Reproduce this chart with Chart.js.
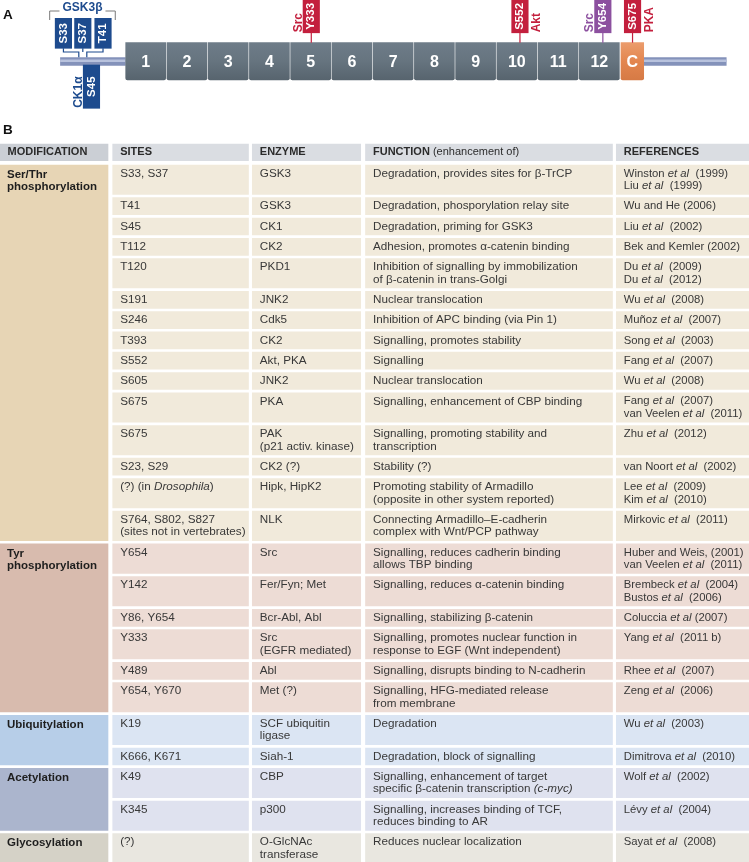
<!DOCTYPE html>
<html>
<head>
<meta charset="utf-8">
<script src="https://cdn.jsdelivr.net/npm/chart.js@4.4.1/dist/chart.umd.min.js"></script>
<style>
  html, body { margin: 0; padding: 0; background: #fff; }
  #wrap { position: relative; width: 749px; height: 862px; overflow: hidden; }
  #domainChart { position: absolute; left: 0; top: 0; }
  #tableChart { position: absolute; left: 0; top: 118px; }
</style>
</head>
<body>
<div id="wrap">
  <canvas id="domainChart" width="749" height="118"></canvas>
  <canvas id="tableChart" width="749" height="744"></canvas>
</div>
<script>
// ---------- panel A: beta-catenin domains ----------
const domainLabels = ['1', '2', '3', '4', '5', '6', '7', '8', '9', '10', '11', '12', 'C'];
const siteNames = ['S33', 'S37', 'T41', 'S45', 'Y333', 'S552', 'Y654', 'S675'];
const siteSlots = [-1.51, -1.04, -0.55, -0.83, 4.5, 9.56, 11.57, 12.29];
const siteKinases = ['GSK3β', 'GSK3β', 'GSK3β', 'CK1α', 'Src', 'Akt', 'Src', 'PKA'];
const tailSlots = [[-1.59, 0], [12.56, 14.57]];

// ---------- panel B: table ----------
const headerLabels = ['MODIFICATION', 'SITES', 'ENZYME', 'FUNCTION', 'REFERENCES'];
const headerNotes = ['', '', '', ' (enhancement of)', ''];
const groups = ['Ser/Thr\nphosphorylation', 'Tyr\nphosphorylation', 'Ubiquitylation', 'Acetylation', 'Glycosylation'];
const groupRowCounts = [15, 6, 2, 2, 1];
const sites = [
  'S33, S37', 'T41', 'S45', 'T112', 'T120', 'S191', 'S246', 'T393', 'S552', 'S605', 'S675', 'S675',
  'S23, S29', '(?) (in *Drosophila*)', 'S764, S802, S827\n(sites not in vertebrates)',
  'Y654', 'Y142', 'Y86, Y654', 'Y333', 'Y489', 'Y654, Y670',
  'K19', 'K666, K671',
  'K49', 'K345',
  '(?)'
];
const enzymes = [
  'GSK3', 'GSK3', 'CK1', 'CK2', 'PKD1', 'JNK2', 'Cdk5', 'CK2', 'Akt, PKA', 'JNK2', 'PKA', 'PAK\n(p21 activ. kinase)',
  'CK2 (?)', 'Hipk, HipK2', 'NLK',
  'Src', 'Fer/Fyn; Met', 'Bcr-Abl, Abl', 'Src\n(EGFR mediated)', 'Abl', 'Met (?)',
  'SCF ubiquitin\nligase', 'Siah-1',
  'CBP', 'p300',
  'O-GlcNAc\ntransferase'
];
const functions = [
  'Degradation, provides sites for β-TrCP',
  'Degradation, phosporylation relay site',
  'Degradation, priming for GSK3',
  'Adhesion, promotes α-catenin binding',
  'Inhibition of signalling by immobilization\nof β-catenin in trans-Golgi',
  'Nuclear translocation',
  'Inhibition of APC binding (via Pin 1)',
  'Signalling, promotes stability',
  'Signalling',
  'Nuclear translocation',
  'Signalling, enhancement of CBP binding',
  'Signalling, promoting stability and\ntranscription',
  'Stability (?)',
  'Promoting stability of Armadillo\n(opposite in other system reported)',
  'Connecting Armadillo–E-cadherin\ncomplex with Wnt/PCP pathway',
  'Signalling, reduces cadherin binding\nallows TBP binding',
  'Signalling, reduces α-catenin binding',
  'Signalling, stabilizing β-catenin',
  'Signalling, promotes nuclear function in\nresponse to EGF (Wnt independent)',
  'Signalling, disrupts binding to N-cadherin',
  'Signalling, HFG-mediated release\nfrom membrane',
  'Degradation',
  'Degradation, block of signalling',
  'Signalling, enhancement of target\nspecific β-catenin transcription *(c-myc)*',
  'Signalling, increases binding of TCF,\nreduces binding to AR',
  'Reduces nuclear localization'
];
const references = [
  'Winston *et al*  (1999)\nLiu *et al*  (1999)',
  'Wu and He (2006)',
  'Liu *et al*  (2002)',
  'Bek and Kemler (2002)',
  'Du *et al*  (2009)\nDu *et al*  (2012)',
  'Wu *et al*  (2008)',
  'Muñoz *et al*  (2007)',
  'Song *et al*  (2003)',
  'Fang *et al*  (2007)',
  'Wu *et al*  (2008)',
  'Fang *et al*  (2007)\nvan Veelen *et al*  (2011)',
  'Zhu *et al*  (2012)',
  'van Noort *et al*  (2002)',
  'Lee *et al*  (2009)\nKim *et al*  (2010)',
  'Mirkovic *et al*  (2011)',
  'Huber and Weis, (2001)\nvan Veelen *et al*  (2011)',
  'Brembeck *et al*  (2004)\nBustos *et al*  (2006)',
  'Coluccia *et al* (2007)',
  'Yang *et al*  (2011 b)',
  'Rhee *et al*  (2007)',
  'Zeng *et al*  (2006)',
  'Wu *et al*  (2003)',
  'Dimitrova *et al*  (2010)',
  'Wolf *et al*  (2002)',
  'Lévy *et al*  (2004)',
  'Sayat *et al*  (2008)'
];

// ---------- styles / layout ----------
const FONT = '"Liberation Sans", Arial, sans-serif';
Chart.defaults.font.family = FONT;

const groupLabelColors = ['#e7d5b5', '#d8bbae', '#b7cee8', '#abb5cd', '#d5d2c7'];
const groupRowColors = ['#f1eadb', '#eddcd5', '#dbe5f3', '#dfe2ef', '#e9e7e0'];
const kinaseColors = { 'GSK3β': '#1d4b8e', 'CK1α': '#1d4b8e', 'Akt': '#c31f3d', 'PKA': '#c31f3d' };
const siteColors = { S33: '#1d4b8e', S37: '#1d4b8e', T41: '#1d4b8e', S45: '#1d4b8e', Y333: '#c31f3d', S552: '#c31f3d', Y654: '#8c509f', S675: '#c31f3d' };
const labelSide = { Y333: 'left', S552: 'right', Y654: 'left', S675: 'right', S45: 'left' };

const A_W = 749, A_H = 118;
const SLOT_PX = 41.24, SLOT0_PX = 125.7;
const BOX = [42.7, 80];
const ARM_W = 40, C_W = 22.7, SITE_W = 16.5;
const TAIL_Y = 61.5;

function siteRange(i) {
  if (siteKinases[i] === 'GSK3β') return [18.3, 48.3];
  if (siteKinases[i] === 'CK1α') return [65, 108.3];
  return [0, 32.8];
}

function vGrad(chart, y0, y1, stops) {
  const ys = chart.scales.y;
  const p0 = ys ? ys.getPixelForValue(y0) : NaN, p1 = ys ? ys.getPixelForValue(y1) : NaN;
  if (!isFinite(p0) || !isFinite(p1)) return stops[1];
  const g = chart.ctx.createLinearGradient(0, p0, 0, p1);
  stops.forEach((c, k) => g.addColorStop(k / (stops.length - 1), c));
  return g;
}

function rotText(ctx, txt, x, y, align) {
  ctx.save();
  ctx.translate(x, y);
  ctx.rotate(-Math.PI / 2);
  ctx.textAlign = align;
  ctx.fillText(txt, 0, 0);
  ctx.restore();
}

const domainMarks = {
  id: 'domainMarks',
  beforeDatasetsDraw(chart) {
    const {ctx} = chart;
    ctx.save();
    ctx.font = 'bold 13.5px ' + FONT;
    ctx.fillStyle = '#111';
    ctx.textBaseline = 'middle';
    ctx.fillText('A', 3, 15);
    ctx.restore();
  },
  afterDatasetsDraw(chart) {
    const {ctx, scales: {x, y}} = chart;
    ctx.save();
    // repeat numbers
    ctx.fillStyle = '#fff';
    ctx.font = 'bold 16px ' + FONT;
    ctx.textAlign = 'center';
    ctx.textBaseline = 'middle';
    const midY = y.getPixelForValue((BOX[0] + BOX[1]) / 2) + 1;
    [0, 1].forEach(d => chart.getDatasetMeta(d).data.forEach((el, k) => {
      ctx.fillText(domainLabels[d === 0 ? k : 12], el.x, midY);
    }));

    // site boxes: text, stems, kinase labels
    const els = chart.getDatasetMeta(4).data;
    const tailTop = y.getPixelForValue(TAIL_Y - 4.2);
    const tailBot = y.getPixelForValue(TAIL_Y + 4.2);
    const boxTop = y.getPixelForValue(BOX[0]);
    ctx.lineWidth = 1.2;
    els.forEach((el, i) => {
      const name = siteNames[i];
      const top = Math.min(el.y, el.base), bot = Math.max(el.y, el.base);
      ctx.strokeStyle = siteColors[name];
      ctx.beginPath();
      if (siteKinases[i] === 'GSK3β') {
        const mid = els[1].x;
        const jy = y.getPixelForValue(52);
        ctx.moveTo(el.x, bot); ctx.lineTo(el.x, jy);
        if (i === 0) { ctx.lineTo(mid - 4, jy); ctx.lineTo(mid - 4, tailTop); }
        if (i === 2) { ctx.lineTo(mid + 4, jy); ctx.lineTo(mid + 4, tailTop); }
      } else if (siteKinases[i] === 'CK1α') {
        ctx.moveTo(el.x, tailBot); ctx.lineTo(el.x, top);
      } else {
        ctx.moveTo(el.x, bot); ctx.lineTo(el.x, boxTop);
      }
      ctx.stroke();

      ctx.fillStyle = '#fff';
      ctx.font = 'bold 11.5px ' + FONT;
      ctx.textBaseline = 'middle';
      rotText(ctx, name, el.x, (top + bot) / 2, 'center');

      const side = labelSide[name];
      if (side) {
        const kin = siteKinases[i];
        ctx.fillStyle = kinaseColors[kin] || siteColors[name];
        ctx.font = 'bold 12px ' + FONT;
        ctx.textBaseline = 'alphabetic';
        const bx = side === 'left' ? el.x - SITE_W / 2 - 1.5 : el.x + SITE_W / 2 + 12;
        rotText(ctx, kin, bx, bot - 0.5, 'left');
      }
    });

    // GSK3beta bracket
    const l = els[0].x - SITE_W / 2 - 5.5, r = els[2].x + SITE_W / 2 + 4;
    const by = y.getPixelForValue(11), bt = y.getPixelForValue(20);
    ctx.font = 'bold 12px ' + FONT;
    ctx.textAlign = 'center';
    ctx.textBaseline = 'middle';
    ctx.fillStyle = kinaseColors['GSK3β'];
    const cx = (l + r) / 2;
    ctx.fillText('GSK3β', cx, y.getPixelForValue(7.5));
    const tw = ctx.measureText('GSK3β').width / 2 + 3;
    ctx.strokeStyle = '#7a7a7a';
    ctx.lineWidth = 1;
    ctx.beginPath();
    ctx.moveTo(l, bt); ctx.lineTo(l, by); ctx.lineTo(cx - tw, by);
    ctx.moveTo(cx + tw, by); ctx.lineTo(r, by); ctx.lineTo(r, bt);
    ctx.stroke();
    ctx.restore();
  }
};

const armGrad = c => vGrad(c.chart, BOX[0], BOX[1], ['#6e7c88', '#66747f', '#57646e']);
const cGrad = c => vGrad(c.chart, BOX[0], BOX[1], ['#eb9c6c', '#e3864f', '#d67a45']);

new Chart(document.getElementById('domainChart'), {
  type: 'bar',
  data: {
    datasets: [
      { data: domainLabels.slice(0, 12).map((l, i) => ({x: i + ARM_W / 2 / SLOT_PX, y: BOX})),
        backgroundColor: armGrad, barThickness: ARM_W, grouped: false, borderRadius: 2, order: 2 },
      { data: [{x: 12.01 + C_W / 2 / SLOT_PX, y: BOX}],
        backgroundColor: cGrad, barThickness: C_W, grouped: false, borderRadius: 2, order: 2 },
      ...tailSlots.map(s => ({ type: 'line', data: s.map(v => ({x: v, y: TAIL_Y})),
        borderColor: '#8492ba', borderWidth: 8.4, borderCapStyle: 'butt', pointRadius: 0, order: 3 })),
      { data: siteNames.map((n, i) => ({x: siteSlots[i], y: siteRange(i)})),
        backgroundColor: siteNames.map(n => siteColors[n]), barThickness: SITE_W, grouped: false, order: 1 },
      ...tailSlots.map(s => ({ type: 'line', data: s.map(v => ({x: v, y: TAIL_Y - 0.8})),
        borderColor: '#b8c2dd', borderWidth: 2.4, borderCapStyle: 'butt', pointRadius: 0, order: 2.5 }))
    ]
  },
  options: {
    responsive: false, animation: false, events: [],
    layout: { padding: 0 },
    plugins: { legend: { display: false }, tooltip: { enabled: false } },
    scales: {
      x: { type: 'linear', min: -SLOT0_PX / SLOT_PX, max: (A_W - SLOT0_PX) / SLOT_PX, display: false, offset: false },
      y: { type: 'linear', min: 0, max: A_H, reverse: true, display: false }
    }
  },
  plugins: [domainMarks]
});

// ---------- panel B ----------
const B_W = 749, B_H = 744;
const COL_L = [0, 112.7, 252.3, 365.5, 616.3];
const COL_R = [108, 248.5, 360.7, 612.5, 749];
const HEAD = [26, 42.7];
const FIRST_TOP = 47;
const ROW_BASE = 4.6, LINE_H = 12.4, GAP = 3.3, PAD = 7.5;
const CELL_SIZE = [11.7, 11.7, 11.7, 11.3];

const cols = [sites, enzymes, functions, references];
const rowLines = sites.map((s, i) => Math.max(...cols.map(c => c[i].split('\n').length)));
const rowSpans = [];
let yy = FIRST_TOP;
rowLines.forEach(n => { rowSpans.push([yy, yy + ROW_BASE + LINE_H * n]); yy += ROW_BASE + LINE_H * n + GAP; });
const rowGroup = [];
groupRowCounts.forEach((n, g) => { for (let k = 0; k < n; k++) rowGroup.push(g); });
const groupSpans = [];
let r0 = 0;
groupRowCounts.forEach(n => { groupSpans.push([rowSpans[r0][0], rowSpans[r0 + n - 1][1]]); r0 += n; });

const tableDatasets = COL_L.map((L, c) => {
  const cx = (L + COL_R[c]) / 2;
  const spans = c === 0 ? groupSpans : rowSpans;
  const colors = c === 0 ? groupLabelColors : rowGroup.map(g => groupRowColors[g]);
  return {
    data: [{x: cx, y: HEAD}, ...spans.map(s => ({x: cx, y: s}))],
    backgroundColor: [c === 0 ? '#cbcfd5' : '#dadde2', ...colors],
    barThickness: COL_R[c] - L, grouped: false, borderWidth: 0
  };
});

function drawRich(ctx, str, x, y, size, bold) {
  let cx = x;
  str.split('*').forEach((p, k) => {
    if (!p) return;
    ctx.font = (k % 2 ? 'italic ' : '') + (bold ? 'bold ' : '') + size + 'px ' + FONT;
    ctx.fillText(p, cx, y);
    cx += ctx.measureText(p).width;
  });
  return cx;
}

const tableText = {
  id: 'tableText',
  afterDatasetsDraw(chart) {
    const {ctx, scales: {x, y}} = chart;
    ctx.save();
    ctx.textBaseline = 'middle';
    ctx.fillStyle = '#111';
    ctx.font = 'bold 13.5px ' + FONT;
    ctx.fillText('B', 3, 12.5);

    // header
    ctx.fillStyle = '#2b2b2b';
    headerLabels.forEach((h, c) => {
      const hx = x.getPixelForValue(COL_L[c] + PAD);
      const hy = y.getPixelForValue((HEAD[0] + HEAD[1]) / 2);
      const end = drawRich(ctx, h, hx, hy, 11, true);
      if (headerNotes[c]) drawRich(ctx, headerNotes[c], end, hy, 11, false);
    });

    // group labels
    ctx.fillStyle = '#1e1e1e';
    groups.forEach((g, k) => {
      g.split('\n').forEach((ln, j) => {
        drawRich(ctx, ln, x.getPixelForValue(PAD - 0.5), y.getPixelForValue(groupSpans[k][0] + 9.5 + LINE_H * j), 11.5, true);
      });
    });

    // body cells
    ctx.fillStyle = '#383838';
    rowSpans.forEach((s, i) => {
      cols.forEach((col, c) => {
        col[i].split('\n').forEach((ln, j) => {
          drawRich(ctx, ln, x.getPixelForValue(COL_L[c + 1] + PAD), y.getPixelForValue(s[0] + 8.5 + LINE_H * j), CELL_SIZE[c], false);
        });
      });
    });
    ctx.restore();
  }
};

new Chart(document.getElementById('tableChart'), {
  type: 'bar',
  data: { datasets: tableDatasets },
  options: {
    responsive: false, animation: false, events: [],
    layout: { padding: 0 },
    plugins: { legend: { display: false }, tooltip: { enabled: false } },
    scales: {
      x: { type: 'linear', min: 0, max: B_W, display: false, offset: false },
      y: { type: 'linear', min: 0, max: B_H, reverse: true, display: false }
    }
  },
  plugins: [tableText]
});
</script>
</body>
</html>
